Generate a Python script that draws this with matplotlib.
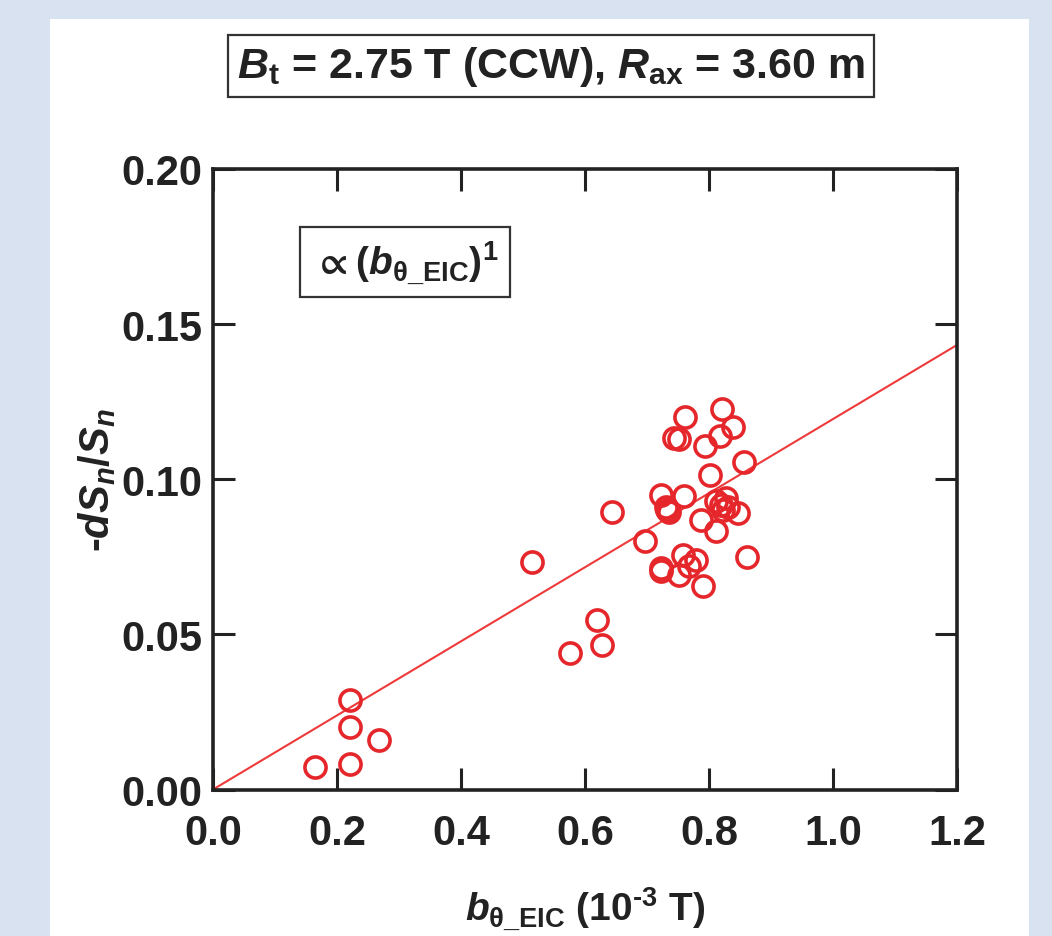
import matplotlib
matplotlib.use("Agg")
import matplotlib.pyplot as plt
from matplotlib.patches import Rectangle

plt.rcParams['font.family'] = ['Liberation Sans', 'DejaVu Sans']
plt.rcParams['font.weight'] = 'bold'
plt.rcParams['axes.labelweight'] = 'bold'
plt.rcParams['mathtext.fontset'] = 'custom'
plt.rcParams['mathtext.rm'] = 'Liberation Sans:bold'
plt.rcParams['mathtext.it'] = 'Liberation Sans:italic:bold'
plt.rcParams['mathtext.bf'] = 'Liberation Sans:bold'
plt.rcParams['mathtext.sf'] = 'Liberation Sans:bold'
plt.rcParams['mathtext.fallback'] = 'stixsans'

# b_theta_EIC (1e-3 T) and -dSn/Sn for each shot
b_eic = [0.164, 0.221, 0.221, 0.221, 0.267, 0.514, 0.575, 0.620, 0.628, 0.643,
         0.696, 0.722, 0.723, 0.733, 0.731, 0.736, 0.762, 0.821, 0.744, 0.752,
         0.838, 0.817, 0.793, 0.857, 0.801, 0.760, 0.811, 0.819, 0.827, 0.830,
         0.822, 0.846, 0.787, 0.811, 0.862, 0.758, 0.779, 0.768, 0.723, 0.752,
         0.790]
dsn = [0.0074, 0.0081, 0.0200, 0.0287, 0.0158, 0.0734, 0.0441, 0.0547, 0.0467, 0.0895,
       0.0802, 0.0705, 0.0950, 0.0902, 0.0912, 0.0896, 0.1200, 0.1226, 0.1133, 0.1130,
       0.1170, 0.1138, 0.1106, 0.1057, 0.1014, 0.0945, 0.0929, 0.0918, 0.0939, 0.0912,
       0.0902, 0.0891, 0.0870, 0.0832, 0.0751, 0.0757, 0.0741, 0.0719, 0.0714, 0.0692,
       0.0655]

# linear fit through the origin
slope = 0.1194
fit_x = [0.0, 1.2]

red = '#e5262a'
dark = '#222222'

fig = plt.figure(figsize=(10.52, 9.37), dpi=100)
fig.patch.set_facecolor('#d9e2f0')
fig.patches.append(Rectangle((50 / 1052, 0), 979 / 1052, 1 - 19.5 / 937,
                             transform=fig.transFigure, facecolor='white',
                             edgecolor='none', zorder=-1))

ax = fig.add_axes([213 / 1052, 146.5 / 937, 744 / 1052, 620.5 / 937])
ax.plot(fit_x, [slope * x for x in fit_x], color='#ee3a3a', lw=1.5, zorder=2)
ax.plot(b_eic, dsn, 'o', ms=15.2, mfc='none', mec=red, mew=2.6, zorder=3)

ax.set_xlim(0, 1.2)
ax.set_ylim(0, 0.2)
ax.set_xticks([0.0, 0.2, 0.4, 0.6, 0.8, 1.0, 1.2])
ax.set_xticklabels(['0.0', '0.2', '0.4', '0.6', '0.8', '1.0', '1.2'])
ax.set_yticks([0.0, 0.05, 0.10, 0.15, 0.20])
ax.set_yticklabels(['0.00', '0.05', '0.10', '0.15', '0.20'])
ax.tick_params(direction='in', length=16, width=2.2, color=dark,
               top=True, right=True, labelsize=30, labelcolor=dark)
ax.tick_params(axis='x', pad=17)
ax.tick_params(axis='y', pad=8)
for s in ax.spines.values():
    s.set_linewidth(2.6)
    s.set_color(dark)

ax.set_xlabel(r'$\mathit{b}_{\mathrm{\theta\_EIC}}$ (10$^{\text{-3}}$ T)',
              fontsize=28, color=dark, labelpad=22)
ax.set_ylabel(r'-$\mathit{dS}_{\mathit{n}}$/$\mathit{S}_{\mathit{n}}$',
              fontsize=30, color=dark)
ax.yaxis.set_label_coords(-0.128, 0.5)

ax.text(0.258, 0.85, r'$\propto(\mathit{b}_{\mathrm{\theta\_EIC}})^{1}$',
        transform=ax.transAxes, ha='center', va='center', fontsize=28,
        color=dark,
        bbox=dict(boxstyle='square,pad=0.3', facecolor='white',
                  edgecolor='#333333', lw=1.6))

fig.text(551 / 1052, 1 - 67 / 937,
         r'$\mathit{B}_{\mathrm{t}}$ = 2.75 T (CCW), $\mathit{R}_{\mathrm{ax}}$ = 3.60 m',
         ha='center', va='center', fontsize=31, color=dark,
         bbox=dict(boxstyle='square,pad=0.2', facecolor='white',
                   edgecolor='#333333', lw=1.6))

fig.savefig('out.png', dpi=100)
